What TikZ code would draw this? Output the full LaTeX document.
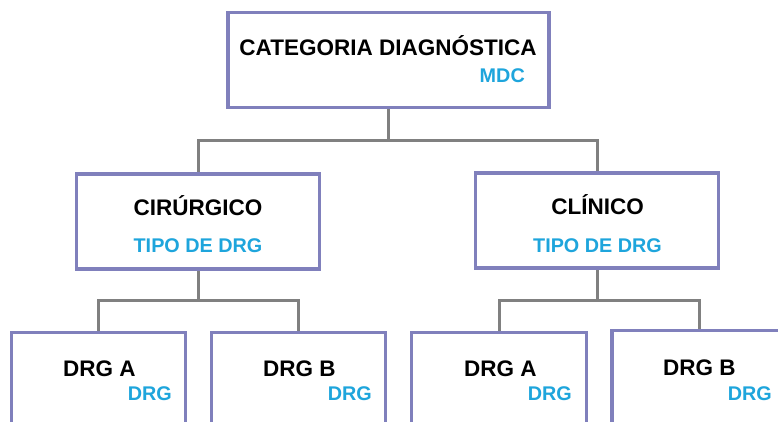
\documentclass[tikz,border=0pt]{standalone}
\usepackage{fontspec}
\setmainfont{Liberation Sans}
\usetikzlibrary{backgrounds}
\definecolor{boxline}{RGB}{128,128,188}
\definecolor{connline}{RGB}{128,128,128}
\definecolor{subblue}{RGB}{30,165,220}
\tikzset{
  box/.style={draw=boxline, line width=3.2pt, fill=white, rectangle, inner sep=0pt},
  conn/.style={draw=connline, line width=3pt},
  maintext/.style={anchor=base, inner sep=0pt, font=\fontsize{22.5}{26}\selectfont\bfseries, text=black},
  subtext/.style={inner sep=0pt, font=\fontsize{19.8}{23}\selectfont\bfseries, text=subblue}
}
\begin{document}
\begin{tikzpicture}[x=1pt,y=-1pt]
\useasboundingbox (0,0) rectangle (778,421);
\clip (0,0) rectangle (778,421);
% box nodes
\node[box, minimum width=321pt, minimum height=95pt] (top) at (388.5,60) {};
\node[box, minimum width=243pt, minimum height=95pt] (ml) at (198,221.5) {};
\node[box, minimum width=243pt, minimum height=95pt] (mr) at (597,220.5) {};
\node[box, minimum width=174pt, minimum height=127pt] (la) at (98.5,396) {};
\node[box, minimum width=174pt, minimum height=127pt] (lb) at (298.5,396) {};
\node[box, minimum width=175pt, minimum height=127pt] (ra) at (499,396) {};
\node[box, minimum width=175pt, minimum height=127pt] (rb) at (699.5,394) {};
% connectors (behind boxes)
\coordinate (j1) at (388.5,140);
\coordinate (j2) at (198,300);
\coordinate (j3) at (597,300);
\begin{scope}[on background layer]
\fill[white] (0,0) rectangle (778,421);
\draw[conn] (top.south) -- (j1) -| (ml.north);
\draw[conn] (j1) -| (mr.north);
\draw[conn] (ml.south) -- (j2) -| (la.north);
\draw[conn] (j2) -| (lb.north);
\draw[conn] (mr.south) -- (j3) -| (ra.north);
\draw[conn] (j3) -| (rb.north);
\end{scope}
% texts
\node[maintext] (t1) at (388,55) {CATEGORIA DIAGNÓSTICA};
\node[subtext, anchor=base east] (s1) at (525,82) {MDC};
\node[maintext] (t2) at (198,215) {CIRÚRGICO};
\node[subtext, anchor=base] (s2) at (198,252) {TIPO DE DRG};
\node[maintext] (t3) at (597.5,214) {CLÍNICO};
\node[subtext, anchor=base] (s3) at (597.5,252) {TIPO DE DRG};
\node[maintext, anchor=base west] (t4) at (63,376) {DRG A};
\node[subtext, anchor=base east] (s4) at (172,400) {DRG};
\node[maintext, anchor=base west] (t5) at (263,376) {DRG B};
\node[subtext, anchor=base east] (s5) at (372,400) {DRG};
\node[maintext, anchor=base west] (t6) at (464,376) {DRG A};
\node[subtext, anchor=base east] (s6) at (572,400) {DRG};
\node[maintext, anchor=base west] (t7) at (663,375) {DRG B};
\node[subtext, anchor=base east] (s7) at (772,400) {DRG};
\end{tikzpicture}
\end{document}
